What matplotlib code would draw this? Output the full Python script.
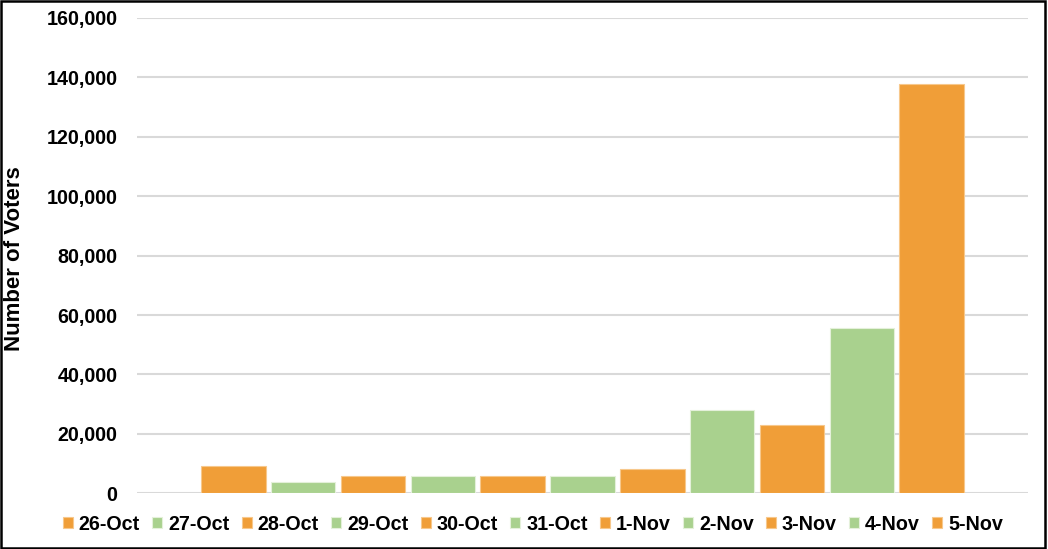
import matplotlib
matplotlib.use("Agg")
import matplotlib.pyplot as plt
from matplotlib.ticker import FuncFormatter, MultipleLocator
from matplotlib.patches import Rectangle

dates = ["26-Oct", "27-Oct", "28-Oct", "29-Oct", "30-Oct", "31-Oct",
         "1-Nov", "2-Nov", "3-Nov", "4-Nov", "5-Nov"]
voters = [9200, 3800, 5950, 5750, 5950, 5950, 8200, 28000, 23000, 55500, 137700]

ORANGE = "#F09E38"
GREEN = "#A9D18E"
palette = [ORANGE, GREEN]

plt.rcParams['font.family'] = ['Liberation Sans', 'DejaVu Sans']

fig = plt.figure(figsize=(10.48, 5.49), dpi=100)
ax = fig.add_axes([137/1048, 1 - 493.3/549, (1028 - 137)/1048, (493.3 - 18)/549])

handles = []
for i, (d, v) in enumerate(zip(dates, voters)):
    c = palette[i % 2]
    edge = "#F7C88C" if c == ORANGE else "#E4F0DA"
    b = ax.bar(i, v, width=0.924, color=c, edgecolor=edge, linewidth=0.8,
               label=d, zorder=3)
    handles.append(b)

ax.set_ylim(0, 160000)
ax.set_xlim(-1.379, len(dates) - 1 + 1.379)
ax.yaxis.set_major_locator(MultipleLocator(20000))
ax.yaxis.set_major_formatter(FuncFormatter(lambda v, p: f"{int(v):,}"))
ax.set_xticks([])
ax.grid(axis='y', color='#D9D9D9', linewidth=1.5, zorder=0)
for s in ax.spines.values():
    s.set_visible(False)
ax.tick_params(axis='y', length=0, pad=14, labelsize=14.2)
for lbl in ax.get_yticklabels():
    lbl.set_fontweight('bold')

fig.text(15/1048, 1 - 259/549, "Number of Voters", rotation=90, fontsize=16,
         fontweight='bold', ha='center', va='center')

leg = fig.legend(handles=handles, labels=dates, loc='center',
                 bbox_to_anchor=(533/1048, 1 - 524/549), ncol=11, frameon=False,
                 prop={'weight': 'bold', 'size': 14.2}, handlelength=0.5,
                 handleheight=0.5, handletextpad=0.3, columnspacing=0.63,
                 borderaxespad=0)

fig.patches.append(Rectangle((0.001, 0.002), 0.996, 0.996, transform=fig.transFigure,
                             fill=False, edgecolor='black', linewidth=1.8))

fig.savefig("out.png", dpi=100)
